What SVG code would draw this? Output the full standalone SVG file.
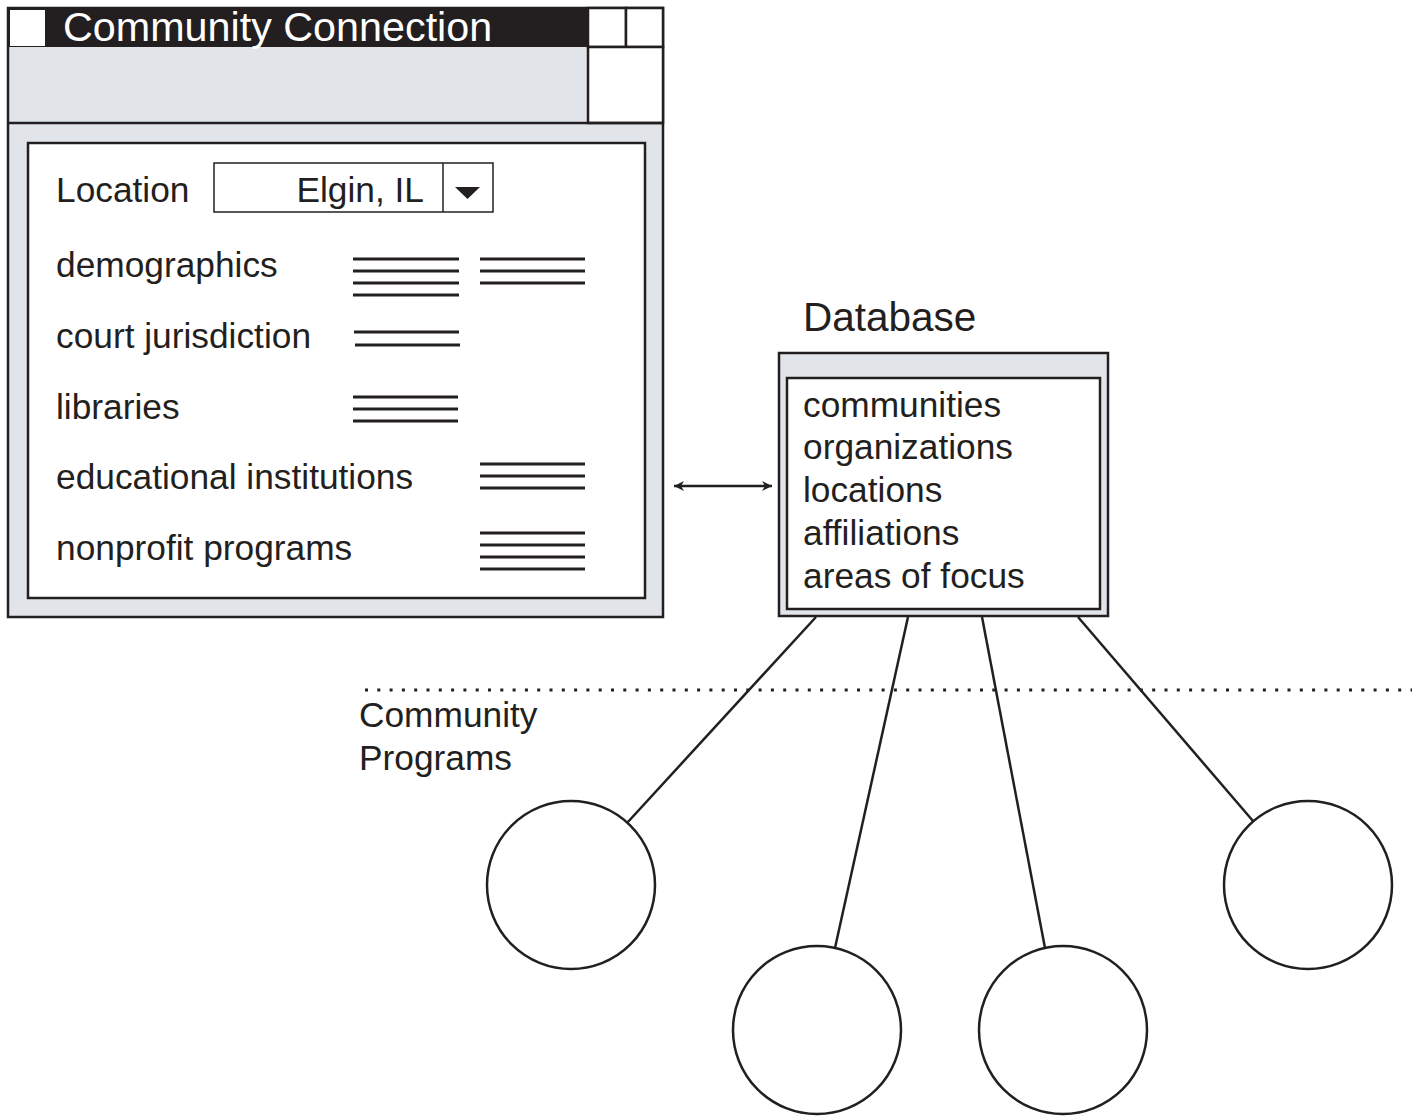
<svg xmlns="http://www.w3.org/2000/svg" width="1417" height="1118" viewBox="0 0 1417 1118">
<defs>
<style>
text{font-family:"Liberation Sans",Arial,sans-serif;fill:#231f20;font-size:35.3px}
.b{stroke:#231f20;fill:none;stroke-width:2.5}
.g{fill:#e1e5ea;stroke:#231f20;stroke-width:2.5}
.w{fill:#fff;stroke:#231f20;stroke-width:2.5}
.ln{stroke:#231f20;stroke-width:3}
.c{fill:#fff;stroke:#231f20;stroke-width:2.5}
</style>
<marker id="ah" viewBox="0 0 12 12" refX="11" refY="6" markerWidth="12" markerHeight="12" markerUnits="userSpaceOnUse" orient="auto-start-reverse">
<path d="M1,1 L11,6 L1,11 L4,6 Z" fill="#231f20"/>
</marker>
</defs>
<rect width="1417" height="1118" fill="#fff"/>

<g id="window">
<rect class="g" x="8" y="8" width="655" height="609"/>
<rect x="8" y="8" width="580" height="39" fill="#231f20"/>
<rect x="10" y="10" width="35" height="36" fill="#fff"/>
<text x="63" y="41" style="fill:#fff;font-size:41.3px">Community Connection</text>
<rect class="w" x="588" y="8" width="38" height="39"/>
<rect class="w" x="626" y="8" width="37" height="39"/>
<rect class="w" x="588" y="47" width="75" height="76"/>
<line class="b" x1="8" y1="123" x2="663" y2="123"/>
<rect class="w" x="28" y="143" width="617" height="455"/>
<text x="56" y="202">Location</text>
<rect class="w" x="214" y="163" width="279" height="49" style="stroke-width:1.5"/>
<line x1="443" y1="163" x2="443" y2="212" stroke="#231f20" stroke-width="1.5"/>
<text x="424" y="202" text-anchor="end">Elgin, IL</text>
<path d="M455,187 L480,187 L467.5,199 Z" fill="#231f20"/>
<text x="56" y="277">demographics</text>
<text x="56" y="348">court jurisdiction</text>
<text x="56" y="419">libraries</text>
<text x="56" y="489">educational institutions</text>
<text x="56" y="560">nonprofit programs</text>
<g class="ln">
<line x1="353" y1="259" x2="459" y2="259"/>
<line x1="353" y1="271" x2="459" y2="271"/>
<line x1="353" y1="283" x2="459" y2="283"/>
<line x1="353" y1="295" x2="459" y2="295"/>
<line x1="480" y1="259" x2="585" y2="259"/>
<line x1="480" y1="271" x2="585" y2="271"/>
<line x1="480" y1="283" x2="585" y2="283"/>
<line x1="354" y1="332" x2="459" y2="332"/>
<line x1="355" y1="345" x2="460" y2="345"/>
<line x1="353" y1="397" x2="458" y2="397"/>
<line x1="353" y1="409" x2="458" y2="409"/>
<line x1="353" y1="421" x2="458" y2="421"/>
<line x1="480" y1="464" x2="585" y2="464"/>
<line x1="480" y1="476" x2="585" y2="476"/>
<line x1="480" y1="488" x2="585" y2="488"/>
<line x1="480" y1="533" x2="585" y2="533"/>
<line x1="480" y1="545" x2="585" y2="545"/>
<line x1="480" y1="557" x2="585" y2="557"/>
<line x1="480" y1="569" x2="585" y2="569"/>
</g>
</g>

<g id="database">
<text x="803" y="331" style="font-size:40.5px">Database</text>
<rect class="g" x="779" y="353" width="329" height="263"/>
<rect class="w" x="787" y="378" width="313" height="231"/>
<text x="803" y="417">communities</text>
<text x="803" y="459">organizations</text>
<text x="803" y="502">locations</text>
<text x="803" y="545">affiliations</text>
<text x="803" y="588">areas of focus</text>
</g>

<g id="community-programs">
<line x1="365" y1="690" x2="1412" y2="690" stroke="#231f20" stroke-width="3" stroke-dasharray="3 9.3"/>
<text x="359" y="727">Community</text>
<text x="359" y="770">Programs</text>
</g>

<g id="connectors">
<line x1="674" y1="486" x2="772" y2="486" stroke="#231f20" stroke-width="2.5" marker-start="url(#ah)" marker-end="url(#ah)"/>
<line class="b" x1="816" y1="617" x2="627" y2="823"/>
<line class="b" x1="908" y1="617" x2="835" y2="948"/>
<line class="b" x1="982" y1="617" x2="1045" y2="948"/>
<line class="b" x1="1078" y1="617" x2="1253" y2="821"/>
</g>

<g id="program1"><circle class="c" cx="571" cy="885" r="84"/></g>
<g id="program2"><circle class="c" cx="817" cy="1030" r="84"/></g>
<g id="program3"><circle class="c" cx="1063" cy="1030" r="84"/></g>
<g id="program4"><circle class="c" cx="1308" cy="885" r="84"/></g>
</svg>
